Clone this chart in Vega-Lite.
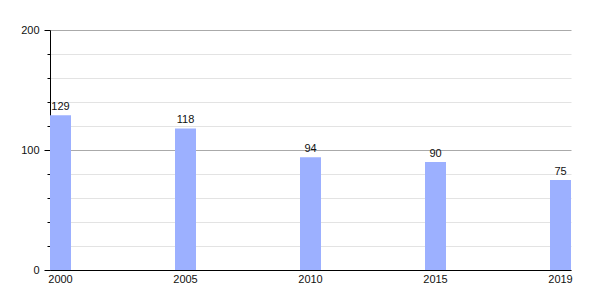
{
  "$schema": "https://vega.github.io/schema/vega-lite/v6.json",
  "width": 521,
  "height": 240,
  "autosize": {"type": "none"},
  "padding": {"left": 50, "top": 30, "right": 29, "bottom": 30},
  "background": "white",
  "data": {"values": [
    {"year": "2000", "value": 129},
    {"year": "2005", "value": 118},
    {"year": "2010", "value": 94},
    {"year": "2015", "value": 90},
    {"year": "2019", "value": 75}
  ]},
  "config": {
    "view": {"stroke": null},
    "font": "Liberation Sans"
  },
  "encoding": {
    "x": {
      "field": "year", "type": "ordinal",
      "scale": {"paddingInner": 0.832, "paddingOuter": 0},
      "axis": {
        "title": null, "labelAngle": 0, "ticks": false, "domainColor": "#000", "domainWidth": 1,
        "labelFontSize": 11, "labelColor": "#111", "labelPadding": 3
      }
    },
    "y": {
      "field": "value", "type": "quantitative",
      "scale": {"domain": [0, 200], "nice": false},
      "axis": {
        "title": null,
        "values": [0, 20, 40, 60, 80, 100, 120, 140, 160, 180, 200],
        "labelExpr": "datum.value % 100 === 0 ? datum.label : ''",
        "domainColor": "#000",
        "tickColor": "#000",
        "tickSize": {"condition": {"test": "datum.value % 100 === 0", "value": 6}, "value": 3},
        "labelPadding": 5,
        "labelFontSize": 11,
        "labelColor": "#111",
        "grid": true,
        "gridColor": {"condition": {"test": "datum.value % 100 === 0", "value": "#aaaaaa"}, "value": "#e3e3e3"}
      }
    }
  },
  "layer": [
    {"mark": {"type": "bar", "color": "#9cb0ff"}},
    {"mark": {"type": "text", "baseline": "bottom", "dy": -3, "fontSize": 11, "color": "#111"},
     "encoding": {"text": {"field": "value", "type": "quantitative"}}}
  ]
}
